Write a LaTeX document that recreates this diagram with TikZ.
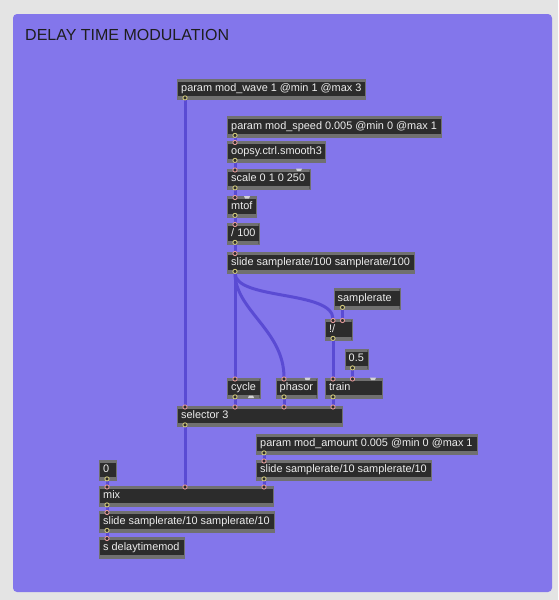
\documentclass[tikz,border=0pt]{standalone}
\usepackage{fontspec}
\setmainfont{Liberation Sans}
\definecolor{bggray}{HTML}{E4E4E4}
\definecolor{panel}{HTML}{8376EB}
\definecolor{objfill}{HTML}{2C2C2C}
\definecolor{objedge}{HTML}{707070}
\definecolor{cordc}{HTML}{5A4BD3}
\definecolor{inc}{HTML}{E49A9A}
\definecolor{outc}{HTML}{CFC77A}
\definecolor{tabc}{HTML}{D4D4D4}
\definecolor{titlec}{HTML}{1E1E1E}
\definecolor{objtext}{HTML}{EDEDED}
\tikzset{
  obj/.style={anchor=north west, fill=objfill, draw=objedge, line width=0.4pt,
    inner xsep=4pt, inner ysep=0pt, minimum height=20.5pt, text=objtext,
    font=\fontsize{10.9}{13}\selectfont, text height=8pt, text depth=2.4pt,
    path picture={
      \fill[objedge] (path picture bounding box.north west) rectangle ([yshift=-3pt]path picture bounding box.north east);
      \fill[objedge] (path picture bounding box.south west) rectangle ([yshift=3pt]path picture bounding box.south east);}},
  cord/.style={draw=cordc, line width=3pt},
  inport/.style={fill=objfill, draw=inc, line width=0.9pt},
  outport/.style={fill=objfill, draw=outc, line width=0.9pt},
  tabmark/.style={fill=tabc},
}
\newcommand\maxobj[5]{\pgfmathsetmacro\objtw{#4-8}\node[obj, minimum width=#4pt] (#1) at (#2,#3) {\makebox[\objtw pt][l]{#5}};}
\newcommand\inp[1]{\draw[inport] ([yshift=-1.5pt]#1) circle[radius=2.1pt];}
\newcommand\outp[1]{\draw[outport] ([yshift=1.5pt]#1) circle[radius=2.1pt];}
\begin{document}
\begin{tikzpicture}[x=1pt,y=-1pt]
\useasboundingbox (0,0) rectangle (558,600);
\fill[bggray] (0,0) rectangle (558,600);
\fill[panel, rounded corners=4pt] (13,14) rectangle (552,592);
\node[anchor=base west, text=titlec, font=\fontsize{16}{19}\selectfont, inner sep=0pt] (title) at (25,40.7) {DELAY TIME MODULATION};

% objects
\maxobj{wave}{177}{78.5}{188}{param mod\_wave 1 @min 1 @max 3}
\maxobj{speed}{227}{116}{214}{param mod\_speed 0.005 @min 0 @max 1}
\maxobj{smooth}{227}{141}{98}{oopsy.ctrl.smooth3}
\maxobj{scale}{227}{168.5}{82.5}{scale 0 1 0 250}
\maxobj{mtof}{227}{196}{29}{mtof}
\maxobj{div}{227}{223}{31.5}{/ 100}
\maxobj{slideA}{227}{252}{187}{slide samplerate/100 samplerate/100}
\maxobj{sr}{333.5}{288}{66}{samplerate}
\maxobj{rdiv}{325}{319}{26.5}{!/}
\maxobj{half}{344.5}{348.5}{23}{0.5}
\maxobj{cyc}{227}{377.5}{32.5}{cycle}
\maxobj{pha}{275.5}{377.5}{41}{phasor}
\maxobj{train}{325}{377.5}{57}{train}
\maxobj{sel}{177}{405.5}{165}{selector 3}
\maxobj{amount}{256}{433.5}{221}{param mod\_amount 0.005 @min 0 @max 1}
\maxobj{slideB}{256}{459.5}{175}{slide samplerate/10 samplerate/10}
\maxobj{zero}{99}{459.5}{17}{0}
\maxobj{mix}{99}{485.5}{174}{mix}
\maxobj{slideC}{99}{511}{175}{slide samplerate/10 samplerate/10}
\maxobj{send}{99}{537}{85}{s delaytimemod}

% small tabs
\fill[tabmark] (296,168.5) -- (302,168.5) -- (301,171) -- (297,171) -- cycle;
\fill[tabmark] (244,196) -- (250,196) -- (249,198.5) -- (245,198.5) -- cycle;
\fill[tabmark] (248,398) -- (254,398) -- (253,395.5) -- (249,395.5) -- cycle;
\fill[tabmark] (304.5,377.5) -- (310.5,377.5) -- (309.5,380) -- (305.5,380) -- cycle;
\fill[tabmark] (370,377.5) -- (376,377.5) -- (375,380) -- (371,380) -- cycle;

% ports
\coordinate (waveo) at ([xshift=8pt]wave.south west);
\coordinate (speedo) at ([xshift=8pt]speed.south west);
\coordinate (smoothi) at ([xshift=8pt]smooth.north west);
\coordinate (smootho) at ([xshift=8pt]smooth.south west);
\coordinate (scalei) at ([xshift=8pt]scale.north west);
\coordinate (scaleo) at ([xshift=8pt]scale.south west);
\coordinate (mtofi) at ([xshift=8pt]mtof.north west);
\coordinate (mtofo) at ([xshift=8pt]mtof.south west);
\coordinate (divi) at ([xshift=8pt]div.north west);
\coordinate (divo) at ([xshift=8pt]div.south west);
\coordinate (slideAi) at ([xshift=8pt]slideA.north west);
\coordinate (slideAo) at ([xshift=8pt]slideA.south west);
\coordinate (sro) at ([xshift=9pt]sr.south west);
\coordinate (rdivi) at ([xshift=8pt]rdiv.north west);
\coordinate (rdivj) at (sro |- rdiv.north);
\coordinate (rdivo) at ([xshift=8pt]rdiv.south west);
\coordinate (halfo) at ([xshift=8pt]half.south west);
\coordinate (cyci) at ([xshift=8pt]cyc.north west);
\coordinate (cyco) at ([xshift=8pt]cyc.south west);
\coordinate (phai) at ([xshift=8.5pt]pha.north west);
\coordinate (phao) at ([xshift=8.5pt]pha.south west);
\coordinate (traini) at ([xshift=8pt]train.north west);
\coordinate (trainj) at (halfo |- train.north);
\coordinate (traino) at ([xshift=8pt]train.south west);
\coordinate (seli) at (waveo |- sel.north);
\coordinate (selj) at (cyco |- sel.north);
\coordinate (selk) at (phao |- sel.north);
\coordinate (sell) at (traino |- sel.north);
\coordinate (selo) at ([xshift=8pt]sel.south west);
\coordinate (amounto) at ([xshift=8pt]amount.south west);
\coordinate (slideBi) at ([xshift=8pt]slideB.north west);
\coordinate (slideBo) at ([xshift=8pt]slideB.south west);
\coordinate (zeroo) at ([xshift=8pt]zero.south west);
\coordinate (mixi) at ([xshift=8pt]mix.north west);
\coordinate (mixj) at (selo |- mix.north);
\coordinate (mixk) at (slideBo |- mix.north);
\coordinate (mixo) at ([xshift=8pt]mix.south west);
\coordinate (slideCi) at ([xshift=8pt]slideC.north west);
\coordinate (slideCo) at ([xshift=8pt]slideC.south west);
\coordinate (sendi) at ([xshift=8pt]send.north west);

% cords
\draw[cord] (waveo) -- (seli);
\draw[cord] (speedo) -- (smoothi);
\draw[cord] (smootho) -- (scalei);
\draw[cord] (scaleo) -- (mtofi);
\draw[cord] (mtofo) -- (divi);
\draw[cord] (divo) -- (slideAi);
\draw[cord] (slideAo) -- (cyci);
\draw[cord] (slideAo) .. controls +(0,37.5) and +(0,-47.5) .. (phai);
\draw[cord] (slideAo) .. controls +(0,27.5) and +(0,-29) .. (rdivi);
\draw[cord] (sro) -- (rdivj);
\draw[cord] (rdivo) -- (traini);
\draw[cord] (halfo) -- (trainj);
\draw[cord] (cyco) -- (selj);
\draw[cord] (phao) -- (selk);
\draw[cord] (traino) -- (sell);
\draw[cord] (selo) -- (mixj);
\draw[cord] (amounto) -- (slideBi);
\draw[cord] (slideBo) -- (mixk);
\draw[cord] (zeroo) -- (mixi);
\draw[cord] (mixo) -- (slideCi);
\draw[cord] (slideCo) -- (sendi);

% port markers
\foreach \p in {smoothi,scalei,mtofi,divi,slideAi,rdivi,rdivj,cyci,phai,traini,trainj,seli,selj,selk,sell,slideBi,mixi,mixj,mixk,slideCi,sendi} {\inp{\p}}
\foreach \p in {waveo,speedo,smootho,scaleo,mtofo,divo,slideAo,sro,rdivo,halfo,cyco,phao,traino,selo,amounto,slideBo,zeroo,mixo,slideCo} {\outp{\p}}
\end{tikzpicture}
\end{document}
